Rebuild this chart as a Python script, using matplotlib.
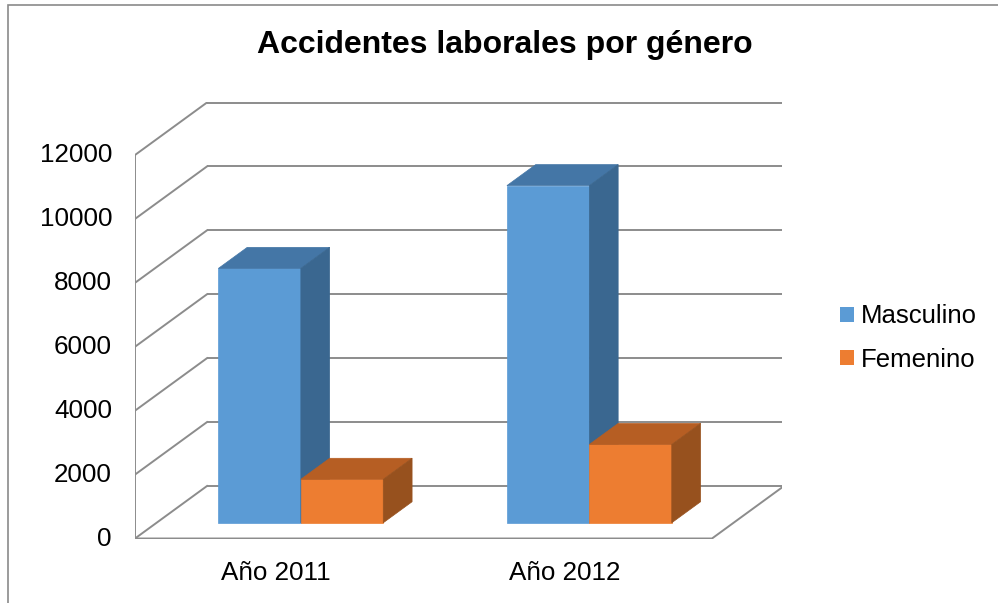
import matplotlib
matplotlib.use("Agg")
import matplotlib.pyplot as plt
from matplotlib.patches import Polygon, Patch, Rectangle

plt.rcParams['font.family'] = ['Liberation Sans', 'DejaVu Sans']

# ---- data ----
categories = ["Año 2011", "Año 2012"]
series_names = ["Masculino", "Femenino"]
masculino = [7960, 10550]
femenino = [1360, 2450]
yticks = [0, 2000, 4000, 6000, 8000, 10000, 12000]
title = "Accidentes laborales por género"

# ---- style ----
front_cols = ["#5B9BD5", "#ED7D31"]
top_cols = ["#4476A6", "#B65E23"]
side_cols = ["#3A6790", "#97511E"]
grid_col = "#8C8C8C"

W, H = 998, 603
fig = plt.figure(figsize=(W / 100, H / 100), dpi=100)

# axes placement (pixels)
left_px, right_px, bottom_px, top_px = 135, 782, 538.5, 102
ax = fig.add_axes([left_px / W, (H - bottom_px) / H,
                   (right_px - left_px) / W, (bottom_px - top_px) / H])
cat_px = 288.5
px_per_unit = 383.5 / 12000
DX = 72 / cat_px            # depth offset in category units
DY = 52.5 / px_per_unit     # depth offset in value units
x0, x1 = -0.5, len(categories) - 0.5
ax.set_xlim(x0, x0 + (right_px - left_px) / cat_px)
ax.set_ylim(0, (bottom_px - top_px) / px_per_unit)
ax.axis("off")

lw = 1.4
# back wall gridlines and side wall diagonals
for v in yticks:
    ax.plot([x0 + DX, x1 + DX], [v + DY, v + DY], color=grid_col, lw=lw, zorder=1,
            solid_capstyle='butt')
    ax.plot([x0, x0 + DX], [v, v + DY], color=grid_col, lw=lw, zorder=1)
# front vertical axis
ax.plot([x0, x0], [0, yticks[-1]], color=grid_col, lw=lw, zorder=1)
# floor
ax.plot([x0, x1, x1 + DX], [0, 0, DY], color=grid_col, lw=lw, zorder=1)

# tick labels
for v in yticks:
    ax.text(x0 - 23 / cat_px, v, f"{v}", ha="right", va="center", fontsize=18.7,
            color="black")
for i, c in enumerate(categories):
    ax.text(i - 0.012, -23 / px_per_unit, c, ha="center", va="top", fontsize=18.7,
            color="black")

# 3D bars
bw = 1 / 3.5
f_front, f_back = 0.30, 0.70
data = [masculino, femenino]
z = 3
for i in range(len(categories)):
    for s, vals in enumerate(data):
        h = vals[i]
        xl = i - bw + s * bw + f_front * DX
        yb = f_front * DY
        ax.bar(xl, h, width=bw, bottom=yb, align="edge", color=front_cols[s],
               edgecolor=front_cols[s], linewidth=0.5, zorder=z)
        ddx = (f_back - f_front) * DX
        ddy = (f_back - f_front) * DY
        top = Polygon([(xl, yb + h), (xl + bw, yb + h), (xl + bw + ddx, yb + h + ddy),
                       (xl + ddx, yb + h + ddy)], closed=True, facecolor=top_cols[s],
                      edgecolor=top_cols[s], lw=0.5, zorder=z)
        side = Polygon([(xl + bw, yb), (xl + bw + ddx, yb + ddy),
                        (xl + bw + ddx, yb + h + ddy), (xl + bw, yb + h)], closed=True,
                       facecolor=side_cols[s], edgecolor=side_cols[s], lw=0.5, zorder=z)
        ax.add_patch(top)
        ax.add_patch(side)
        z += 1

# title
fig.text(505 / W, (H - 45) / H, title, ha="center", va="center", fontsize=23,
         fontweight="bold")

# legend
handles = [Patch(facecolor=front_cols[k], edgecolor="none") for k in range(2)]
fig.legend(handles, series_names, loc="center left",
           bbox_to_anchor=(840 / W, (H - 338) / H), frameon=False, fontsize=18.5,
           handlelength=0.55, handleheight=0.55, handletextpad=0.28,
           labelspacing=0.75, borderpad=0, borderaxespad=0)

# chart border
fig.add_artist(Rectangle((8 / W, -0.1), 1.2, (H - 5) / H + 0.1, transform=fig.transFigure,
                         fill=False, edgecolor="#8A8A8A", lw=1.2))

fig.savefig("out.png", dpi=100)
